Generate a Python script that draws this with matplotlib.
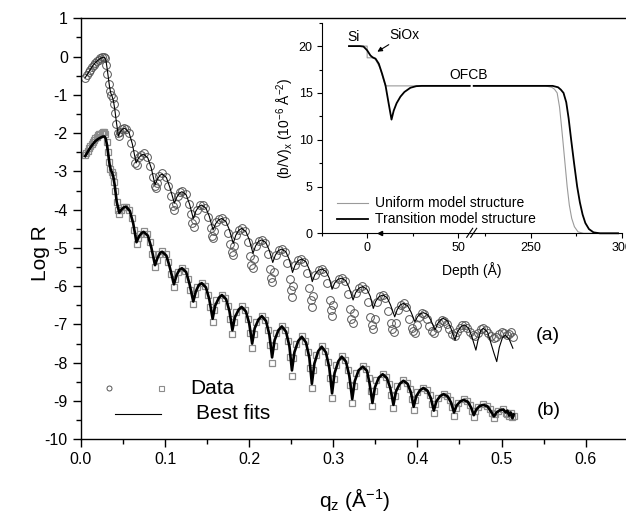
import matplotlib
matplotlib.use('Agg')
import matplotlib.pyplot as plt
from matplotlib.lines import Line2D
from matplotlib.ticker import MultipleLocator, FixedLocator, FormatStrFormatter

plt.rcParams['font.family'] = ['Liberation Sans', 'DejaVu Sans']
plt.rcParams['mathtext.fontset'] = 'custom'
plt.rcParams['mathtext.rm'] = 'Liberation Sans'
plt.rcParams['mathtext.it'] = 'Liberation Sans:italic'
plt.rcParams['mathtext.bf'] = 'Liberation Sans:bold'
plt.rcParams['axes.unicode_minus'] = False

# ---------------- main data: curve (b) fit (thick line) ----------------
q_b = [0.005, 0.008, 0.011, 0.014, 0.017, 0.020, 0.023, 0.026, 0.028, 0.0295,
       0.031, 0.0325, 0.034, 0.0355, 0.037, 0.0385, 0.040, 0.0425, 0.0455, 0.048,
       0.051, 0.0535, 0.058, 0.062, 0.066, 0.069, 0.072, 0.0745, 0.0795, 0.0835,
       0.088, 0.091, 0.094, 0.0965, 0.1015, 0.1055, 0.1105, 0.1135, 0.117, 0.120,
       0.125, 0.129, 0.1335, 0.1365, 0.140, 0.1435, 0.1485, 0.1525, 0.1565, 0.1595,
       0.164, 0.1675, 0.1725, 0.1765, 0.180, 0.183, 0.1875, 0.191, 0.196, 0.200,
       0.2035, 0.2065, 0.211, 0.215, 0.220, 0.224, 0.2272, 0.2302, 0.2347, 0.2388,
       0.2438, 0.2478, 0.2508, 0.2538, 0.2583, 0.2625, 0.2675, 0.2715, 0.2745, 0.2775,
       0.282, 0.2862, 0.2912, 0.2952, 0.2985, 0.3015, 0.306, 0.310, 0.315, 0.319,
       0.3225, 0.3255, 0.330, 0.335, 0.340, 0.343, 0.3465, 0.3495, 0.354, 0.3587,
       0.3637, 0.3677, 0.3715, 0.3745, 0.379, 0.3833, 0.3883, 0.3923, 0.3955, 0.3985,
       0.403, 0.407, 0.412, 0.416, 0.4195, 0.4225, 0.427, 0.431, 0.436, 0.440,
       0.4435, 0.4465, 0.451, 0.455, 0.460, 0.464, 0.467, 0.470, 0.474, 0.4784,
       0.4834, 0.487, 0.491, 0.494, 0.498, 0.5022, 0.505, 0.507, 0.509, 0.511,
       0.513, 0.5145]
fit_b = [-2.60, -2.49, -2.38, -2.29, -2.21, -2.16, -2.12, -2.09, -2.09, -2.15,
         -2.32, -2.58, -2.82, -2.97, -3.03, -3.15, -3.35, -3.80, -4.08, -4.00,
         -3.94, -3.92, -4.03, -4.35, -4.85, -4.70, -4.61, -4.58, -4.68, -4.98,
         -5.45, -5.26, -5.13, -5.10, -5.20, -5.50, -5.95, -5.72, -5.57, -5.53,
         -5.63, -5.94, -6.40, -6.14, -5.97, -5.92, -6.03, -6.34, -6.85, -6.51,
         -6.30, -6.23, -6.34, -6.65, -7.15, -6.81, -6.61, -6.54, -6.66, -6.97,
         -7.50, -7.10, -6.87, -6.78, -6.91, -7.27, -7.86, -7.41, -7.15, -7.05,
         -7.19, -7.57, -8.20, -7.72, -7.43, -7.32, -7.47, -7.87, -8.55, -8.02,
         -7.70, -7.58, -7.73, -8.13, -8.80, -8.27, -7.96, -7.84, -7.97, -8.34,
         -8.95, -8.48, -8.20, -8.10, -8.21, -8.53, -9.05, -8.64, -8.39, -8.30,
         -8.40, -8.66, -9.10, -8.75, -8.55, -8.47, -8.55, -8.78, -9.15, -8.88,
         -8.72, -8.66, -8.73, -8.93, -9.25, -9.01, -8.87, -8.82, -8.88, -9.04,
         -9.30, -9.12, -9.01, -8.97, -9.02, -9.18, -9.37, -9.22, -9.13, -9.10,
         -9.14, -9.26, -9.40, -9.30, -9.24, -9.22, -9.30, -9.25, -9.38, -9.30,
         -9.45, -9.35]

# ---------------- main data: curve (b) data (squares) ----------------
q_b_data = [0.005, 0.0065, 0.008, 0.0095, 0.011, 0.0125, 0.014, 0.0155, 0.017, 0.0185,
            0.020, 0.0215, 0.023, 0.0245, 0.026, 0.0275, 0.029, 0.0305, 0.032, 0.0335,
            0.035, 0.0365, 0.038, 0.0395, 0.041, 0.0425, 0.044, 0.0455, 0.048, 0.051,
            0.0535, 0.0575, 0.061, 0.0635, 0.066, 0.0678, 0.0705,
            0.0745, 0.0785, 0.082, 0.0845, 0.088, 0.0898, 0.0925,
            0.0965, 0.1005, 0.104, 0.1065, 0.1105, 0.1123, 0.115,
            0.120, 0.124, 0.1275, 0.130, 0.1335, 0.1353, 0.138,
            0.1435, 0.1475, 0.151, 0.1535, 0.1565, 0.1583, 0.161,
            0.1675, 0.1715, 0.175, 0.1775, 0.180, 0.1818, 0.1845,
            0.191, 0.195, 0.1985, 0.201, 0.2035, 0.2053, 0.208,
            0.215, 0.219, 0.2225, 0.2245, 0.2272, 0.229, 0.2317,
            0.2388, 0.2428, 0.2463, 0.2483, 0.2508, 0.2526, 0.2553,
            0.2625, 0.2665, 0.270, 0.272, 0.2745, 0.2763, 0.279,
            0.2862, 0.2902, 0.2937, 0.296, 0.2985, 0.3003, 0.303,
            0.310, 0.314, 0.3175, 0.320, 0.3225, 0.3243, 0.327,
            0.335, 0.339, 0.3425, 0.3445, 0.3465, 0.3483, 0.351,
            0.3587, 0.3627, 0.3662, 0.3687, 0.3715, 0.3733, 0.376,
            0.3833, 0.3873, 0.3908, 0.393, 0.3955, 0.3973, 0.400,
            0.407, 0.411, 0.4145, 0.417, 0.4195, 0.4213, 0.424,
            0.431, 0.435, 0.4385, 0.441, 0.4435, 0.4453, 0.448,
            0.455, 0.459, 0.4625, 0.4648, 0.467, 0.4688, 0.4715,
            0.4784, 0.4824, 0.486, 0.4885, 0.491, 0.4928, 0.4955,
            0.5022, 0.505, 0.507, 0.509, 0.511, 0.513, 0.5145]
data_b = [-2.58, -2.52, -2.46, -2.40, -2.34, -2.28, -2.23, -2.18, -2.13, -2.09,
          -2.06, -2.03, -2.01, -1.99, -1.98, -1.97, -2.03, -2.22, -2.50, -2.76,
          -2.93, -3.02, -3.10, -3.27, -3.52, -3.80, -4.02, -4.12, -4.02, -3.94,
          -3.92, -4.00, -4.21, -4.53, -4.90, -4.75, -4.64,
          -4.57, -4.64, -4.85, -5.15, -5.50, -5.32, -5.17,
          -5.09, -5.16, -5.37, -5.67, -6.02, -5.80, -5.62,
          -5.52, -5.60, -5.80, -6.10, -6.46, -6.21, -6.02,
          -5.91, -5.99, -6.22, -6.54, -6.93, -6.61, -6.36,
          -6.22, -6.30, -6.53, -6.86, -7.25, -6.93, -6.67,
          -6.53, -6.62, -6.86, -7.21, -7.62, -7.24, -6.94,
          -6.77, -6.87, -7.14, -7.53, -8.00, -7.57, -7.23,
          -7.04, -7.14, -7.43, -7.85, -8.35, -7.88, -7.52,
          -7.31, -7.42, -7.72, -8.15, -8.67, -8.18, -7.79,
          -7.57, -7.68, -7.98, -8.41, -8.92, -8.43, -8.05,
          -7.83, -7.93, -8.19, -8.58, -9.04, -8.61, -8.28,
          -8.09, -8.17, -8.40, -8.73, -9.13, -8.75, -8.46,
          -8.29, -8.36, -8.56, -8.85, -9.19, -8.86, -8.61,
          -8.46, -8.52, -8.69, -8.94, -9.24, -8.97, -8.77,
          -8.65, -8.70, -8.85, -9.07, -9.32, -9.09, -8.91,
          -8.81, -8.86, -8.98, -9.16, -9.38, -9.19, -9.04,
          -8.96, -9.00, -9.10, -9.25, -9.42, -9.27, -9.16,
          -9.09, -9.12, -9.20, -9.31, -9.45, -9.34, -9.26,
          -9.21, -9.30, -9.33, -9.40, -9.32, -9.42, -9.38]

# ---------------- main data: curve (a) fit (thin line) ----------------
q_a_fit = [0.005, 0.008, 0.011, 0.014, 0.017, 0.020, 0.023, 0.026, 0.028, 0.0295,
           0.031, 0.0325, 0.034, 0.0355, 0.037, 0.0385, 0.040, 0.042, 0.0445, 0.0465,
           0.049, 0.052, 0.057, 0.061, 0.0655, 0.0685, 0.0715, 0.0745, 0.0795, 0.0835,
           0.088, 0.091, 0.094, 0.0965, 0.1015, 0.1055, 0.111, 0.114, 0.117, 0.120,
           0.125, 0.129, 0.1335, 0.1365, 0.140, 0.1435, 0.1485, 0.1525, 0.157, 0.160,
           0.1635, 0.1673, 0.1723, 0.1763, 0.181, 0.184, 0.1875, 0.191, 0.196, 0.200,
           0.2045, 0.2075, 0.211, 0.2148, 0.2198, 0.2238, 0.228, 0.231, 0.2346, 0.2386,
           0.2436, 0.2476, 0.2515, 0.2545, 0.2584, 0.2624, 0.2674, 0.2714, 0.275, 0.278,
           0.282, 0.2862, 0.2912, 0.2952, 0.2985, 0.3015, 0.3055, 0.310, 0.315, 0.319,
           0.3235, 0.3265, 0.3305, 0.335, 0.340, 0.344, 0.3475, 0.3505, 0.3545, 0.359,
           0.364, 0.368, 0.373, 0.376, 0.3795, 0.3833, 0.3883, 0.3923, 0.397, 0.400,
           0.4035, 0.407, 0.412, 0.416, 0.421, 0.424, 0.4275, 0.4308, 0.4358, 0.4398,
           0.4447, 0.4477, 0.4517, 0.4556, 0.4606, 0.4646, 0.4695, 0.4725, 0.4755, 0.4784,
           0.4834, 0.4874, 0.491, 0.4943, 0.4973, 0.501, 0.5045, 0.509, 0.5135]
fit_a = [-0.55, -0.45, -0.34, -0.24, -0.16, -0.10, -0.05, -0.02, -0.02, -0.08,
         -0.30, -0.55, -0.80, -0.96, -1.04, -1.15, -1.35, -1.70, -2.08, -1.97,
         -1.90, -1.87, -1.98, -2.28, -2.78, -2.65, -2.58, -2.55, -2.65, -2.91,
         -3.35, -3.20, -3.10, -3.07, -3.16, -3.41, -3.83, -3.67, -3.57, -3.53,
         -3.61, -3.85, -4.23, -4.04, -3.92, -3.88, -3.96, -4.17, -4.53, -4.37,
         -4.27, -4.23, -4.31, -4.52, -4.88, -4.67, -4.54, -4.49, -4.57, -4.78,
         -5.14, -4.95, -4.83, -4.79, -4.86, -5.06, -5.38, -5.19, -5.07, -5.03,
         -5.10, -5.30, -5.64, -5.45, -5.33, -5.29, -5.36, -5.56, -5.88, -5.70,
         -5.59, -5.55, -5.61, -5.79, -6.08, -5.92, -5.82, -5.79, -5.86, -6.05,
         -6.36, -6.17, -6.05, -6.01, -6.08, -6.27, -6.58, -6.39, -6.27, -6.23,
         -6.30, -6.49, -6.80, -6.61, -6.49, -6.45, -6.51, -6.67, -6.93, -6.80,
         -6.72, -6.69, -6.74, -6.89, -7.14, -6.98, -6.88, -6.84, -6.91, -7.10,
         -7.41, -7.19, -7.06, -7.01, -7.09, -7.31, -7.67, -7.36, -7.15, -7.10,
         -7.20, -7.49, -7.75, -7.97, -7.60, -7.35, -7.28, -7.38, -7.62]

# ---------------- main data: curve (a) data (circles) ----------------
q_a_data = [0.005, 0.007, 0.009, 0.011, 0.013, 0.015, 0.017, 0.019, 0.021, 0.023,
            0.025, 0.027, 0.0285, 0.030, 0.0315, 0.033, 0.0345, 0.036, 0.0375, 0.039,
            0.0405, 0.042, 0.0435, 0.045, 0.0465, 0.049, 0.0515, 0.054, 0.057, 0.060,
            0.0625, 0.0645, 0.0665, 0.069, 0.0715, 0.0745, 0.078, 0.082, 0.0855, 0.0875,
            0.089, 0.0905, 0.093, 0.0965, 0.1005, 0.104, 0.1075, 0.1095, 0.111, 0.1125,
            0.115, 0.118, 0.1205, 0.1245, 0.128, 0.1305, 0.1325, 0.134, 0.1355, 0.138,
            0.1415, 0.1445, 0.148, 0.1515, 0.154, 0.1555, 0.157, 0.1585, 0.161, 0.1645,
            0.168, 0.1715, 0.175, 0.1775, 0.179, 0.1805, 0.182, 0.1845, 0.188, 0.1915,
            0.195, 0.1985, 0.201, 0.2025, 0.204, 0.2055, 0.208, 0.2115, 0.215, 0.2185,
            0.222, 0.2245, 0.226, 0.2275, 0.229, 0.2315, 0.235, 0.2385, 0.242, 0.2455,
            0.248, 0.2495, 0.251, 0.2525, 0.255, 0.2585, 0.262, 0.2655, 0.269, 0.2715,
            0.273, 0.2745, 0.276, 0.2785, 0.2825, 0.286, 0.2895, 0.293, 0.2955, 0.297,
            0.2985, 0.300, 0.3025, 0.3065, 0.310, 0.3135, 0.317, 0.3195, 0.3215, 0.323,
            0.3245, 0.327, 0.331, 0.3345, 0.338, 0.3415, 0.344, 0.346, 0.3475, 0.349,
            0.3515, 0.355, 0.3585, 0.362, 0.3655, 0.368, 0.370, 0.3725, 0.374, 0.3765,
            0.380, 0.3835, 0.387, 0.3905, 0.393, 0.395, 0.397, 0.399, 0.4015, 0.405,
            0.408, 0.411, 0.414, 0.417, 0.420, 0.423, 0.426, 0.429, 0.432, 0.435,
            0.438, 0.441, 0.4445, 0.4475, 0.4505, 0.4535, 0.4565, 0.4595, 0.4625, 0.4655,
            0.469, 0.472, 0.475, 0.478, 0.481, 0.484, 0.487, 0.4905, 0.494, 0.497,
            0.500, 0.503, 0.506, 0.509, 0.5115, 0.5135]
data_a = [-0.57, -0.48, -0.41, -0.34, -0.27, -0.21, -0.16, -0.12, -0.08, -0.05,
          -0.02, -0.01, -0.05, -0.22, -0.45, -0.72, -0.90, -1.00, -1.08, -1.25,
          -1.48, -1.75, -2.00, -2.08, -1.98, -1.89, -1.86, -1.90, -2.00, -2.25,
          -2.55, -2.78, -2.82, -2.62, -2.56, -2.53, -2.62, -2.85, -3.15, -3.38,
          -3.44, -3.30, -3.12, -3.05, -3.14, -3.38, -3.65, -3.90, -4.00, -3.85,
          -3.64, -3.54, -3.52, -3.60, -3.85, -4.12, -4.35, -4.44, -4.28, -4.00,
          -3.89, -3.87, -3.95, -4.20, -4.48, -4.70, -4.75, -4.55, -4.33, -4.24,
          -4.22, -4.30, -4.60, -4.90, -5.10, -5.18, -4.95, -4.65, -4.52, -4.48,
          -4.56, -4.85, -5.20, -5.45, -5.53, -5.30, -4.95, -4.82, -4.78, -4.86,
          -5.15, -5.55, -5.78, -5.88, -5.62, -5.18, -5.06, -5.02, -5.10, -5.40,
          -5.80, -6.10, -6.27, -6.00, -5.45, -5.32, -5.28, -5.36, -5.65, -6.05,
          -6.35, -6.54, -6.25, -5.70, -5.58, -5.54, -5.62, -5.92, -6.35, -6.62,
          -6.78, -6.50, -5.95, -5.81, -5.78, -5.86, -6.20, -6.60, -6.85, -6.97,
          -6.70, -6.18, -6.04, -6.00, -6.08, -6.40, -6.80, -7.02, -7.12, -6.85,
          -6.40, -6.26, -6.22, -6.32, -6.65, -6.95, -7.12, -7.19, -6.95, -6.62,
          -6.48, -6.45, -6.55, -6.85, -7.10, -7.18, -7.22, -7.02, -6.80, -6.70,
          -6.72, -6.85, -7.05, -7.18, -7.22, -7.08, -6.95, -6.88, -6.90, -7.00,
          -7.12, -7.25, -7.30, -7.20, -7.08, -7.02, -7.02, -7.10, -7.20, -7.28,
          -7.30, -7.22, -7.12, -7.10, -7.14, -7.22, -7.30, -7.35, -7.33, -7.25,
          -7.20, -7.22, -7.28, -7.25, -7.20, -7.32]

# ---------------- inset: SLD profiles (depth in Angstrom) ----------------
d_uni_1 = [-10, 0, 0, 3, 4.5, 7, 10, 56.4]
v_uni_1 = [20, 20, 18.75, 18.75, 18.6, 17.7, 15.75, 15.75]
d_uni_2 = [218.6, 258, 261.5, 263, 264.5, 265.8, 266.8, 267.6, 268.8, 270, 271.2,
           272.5, 274, 276, 279, 298]
v_uni_2 = [15.75, 15.75, 15.6, 15.4, 15.0, 13.5, 11.6, 10.0, 7.5, 5.0, 3.0,
           1.6, 0.7, 0.15, 0.0, 0.0]
d_tr_1 = [-10, -4, -2, 0, 1.8, 3, 4.6, 6.4, 8.2, 10.1, 11.8, 13.4, 14.6, 16.2,
          18.3, 20.5, 23.8, 27, 30, 56.4]
v_tr_1 = [20, 20, 19.95, 19.55, 19.0, 18.8, 18.66, 18.12, 17.06, 15.8, 13.9,
          12.15, 13.1, 13.9, 14.6, 15.1, 15.55, 15.72, 15.75, 15.75]
d_tr_2 = [218.6, 262, 265, 266.5, 268, 269.5, 270.8, 272.2, 273.8, 275.5, 277,
          278.5, 280, 282, 284.5, 288, 298]
v_tr_2 = [15.75, 15.75, 15.6, 15.35, 15.0, 14.0, 12.3, 10.0, 7.5, 5.0, 3.3,
          2.0, 1.1, 0.45, 0.1, 0.0, 0.0]

x_ticks_main = [0.0, 0.1, 0.2, 0.3, 0.4, 0.5, 0.6]
y_ticks_main = list(range(-10, 2))

W, H = 626, 512
fig = plt.figure(figsize=(W / 100, H / 100), dpi=100)


def fx(px):
    return px / W


def fy(py):
    return 1 - py / H


# ---------------- main axes ----------------
ax = fig.add_axes([fx(81), fy(439.3), 546.7 / W, 421 / H])
ax.set_xlim(0, 0.65)
ax.set_ylim(-10, 1)
ax.spines['right'].set_visible(False)
for s in ['left', 'bottom', 'top']:
    ax.spines[s].set_linewidth(1.0)
ax.xaxis.set_major_locator(FixedLocator(x_ticks_main))
ax.xaxis.set_major_formatter(FormatStrFormatter('%.1f'))
ax.xaxis.set_minor_locator(MultipleLocator(0.05))
ax.yaxis.set_major_locator(FixedLocator(y_ticks_main))
ax.yaxis.set_minor_locator(MultipleLocator(0.5))
ax.tick_params(which='major', direction='out', length=5.5, width=1.0,
               labelsize=11.5, pad=4, top=False, right=False)
ax.tick_params(which='minor', direction='out', length=3.3, width=1.0,
               top=False, right=False)

ax.plot(q_b_data, data_b, ls='none', marker='s', ms=4.8, mfc='none', mec='#8c8c8c',
        mew=0.9, zorder=2)
ax.plot(q_b, fit_b, color='black', lw=1.9, zorder=3)
ax.plot(q_a_data, data_a, ls='none', marker='o', ms=5.6, mfc='none', mec='#555555',
        mew=0.7, zorder=2)
ax.plot(q_a_fit, fit_a, color='black', lw=0.8, zorder=3)

ax.text(0.5547, -7.30, '(a)', fontsize=14, ha='center', va='center')
ax.text(0.5565, -9.26, '(b)', fontsize=14, ha='center', va='center')

# manual legend
fig.add_artist(Line2D([fx(109.3)], [fy(388.3)], ls='none', marker='o', ms=3.6,
                      mfc='none', mec='#555555', mew=0.7))
fig.add_artist(Line2D([fx(161)], [fy(388.3)], ls='none', marker='s', ms=3.6,
                      mfc='none', mec='#8c8c8c', mew=0.8))
fig.add_artist(Line2D([fx(115), fx(161)], [fy(414), fy(414)], color='black', lw=0.8))
fig.text(fx(190), fy(388.5), 'Data', fontsize=15, ha='left', va='center')
fig.text(fx(195.7), fy(413.5), 'Best fits', fontsize=15, ha='left', va='center')

fig.text(fx(40), fy(253), 'Log R', fontsize=15, rotation=90, ha='center', va='center')
fig.text(fx(355), fy(507), r'q$_\mathrm{z}$ (Å$^{\mathrm{-1}}$)', fontsize=15,
         ha='center', va='baseline')

# ---------------- inset (broken x axis) ----------------
inL = fig.add_axes([fx(321.7), fy(233.3), 150 / W, 210.6 / H])
inR = fig.add_axes([fx(471.7), fy(233.3), 150 / W, 210.6 / H])
for a in (inL, inR):
    a.set_ylim(0, 22.5)
    a.patch.set_alpha(0)
    a.spines['top'].set_visible(False)
    a.spines['right'].set_visible(False)
    for s in ['left', 'bottom']:
        a.spines[s].set_linewidth(0.8)
    a.tick_params(which='major', direction='out', length=3.5, width=0.8,
                  labelsize=9, pad=3)
    a.tick_params(which='minor', direction='out', length=2, width=0.8)
inR.spines['left'].set_visible(False)
inR.tick_params(axis='y', which='both', left=False, labelleft=False)

inL.set_xlim(-25, 57.5)
inR.set_xlim(217.5, 300)
inL.xaxis.set_major_locator(FixedLocator([0, 50]))
inL.xaxis.set_minor_locator(FixedLocator([-25, 25]))
inR.xaxis.set_major_locator(FixedLocator([250, 300]))
inR.xaxis.set_minor_locator(FixedLocator([225, 275]))
inL.yaxis.set_major_locator(MultipleLocator(5))
inL.yaxis.set_minor_locator(MultipleLocator(2.5))

inL.plot(d_uni_1, v_uni_1, color='#9a9a9a', lw=0.8, clip_on=False)
inR.plot(d_uni_2, v_uni_2, color='#9a9a9a', lw=0.8, clip_on=False)
inL.plot(d_tr_1, v_tr_1, color='black', lw=1.3, clip_on=False)
inR.plot(d_tr_2, v_tr_2, color='black', lw=1.3, clip_on=False)

inL.plot([7.3], [0], ls='none', marker='<', ms=3, color='black', clip_on=False)

inL.text(-7.5, 20.95, 'Si', fontsize=10, ha='center', va='center')
inL.annotate('SiOx', xy=(5.6, 19.4), xytext=(12.3, 21.2), fontsize=10,
             ha='left', va='center',
             arrowprops=dict(arrowstyle='-|>', color='black', lw=0.8,
                             mutation_scale=7, shrinkA=0, shrinkB=0))
fig.text(fx(468.3), fy(75), 'OFCB', fontsize=10, ha='center', va='center')

# break marks
fig.add_artist(Line2D([fx(466.7), fx(472.7)], [fy(237.3), fy(228.3)], color='black', lw=0.8))
fig.add_artist(Line2D([fx(470.7), fx(476.7)], [fy(237.3), fy(228.3)], color='black', lw=0.8))

# inset legend
fig.add_artist(Line2D([fx(336.7), fx(368)], [fy(202.7), fy(202.7)], color='#9a9a9a', lw=0.8))
fig.add_artist(Line2D([fx(336.7), fx(368)], [fy(219), fy(219)], color='black', lw=1.3))
fig.text(fx(375), fy(202.7), 'Uniform model structure', fontsize=10, ha='left', va='center')
fig.text(fx(375), fy(219), 'Transition model structure', fontsize=10, ha='left', va='center')

fig.text(fx(471.7), fy(270), 'Depth (Å)', fontsize=10, ha='center', va='center')
fig.text(fx(285), fy(128), r'(b/V)$_\mathrm{x}$ (10$^{\mathrm{-6}}$ Å$^{\mathrm{-2}}$)',
         fontsize=10, rotation=90, ha='center', va='center')

fig.savefig('out.png', dpi=100)
